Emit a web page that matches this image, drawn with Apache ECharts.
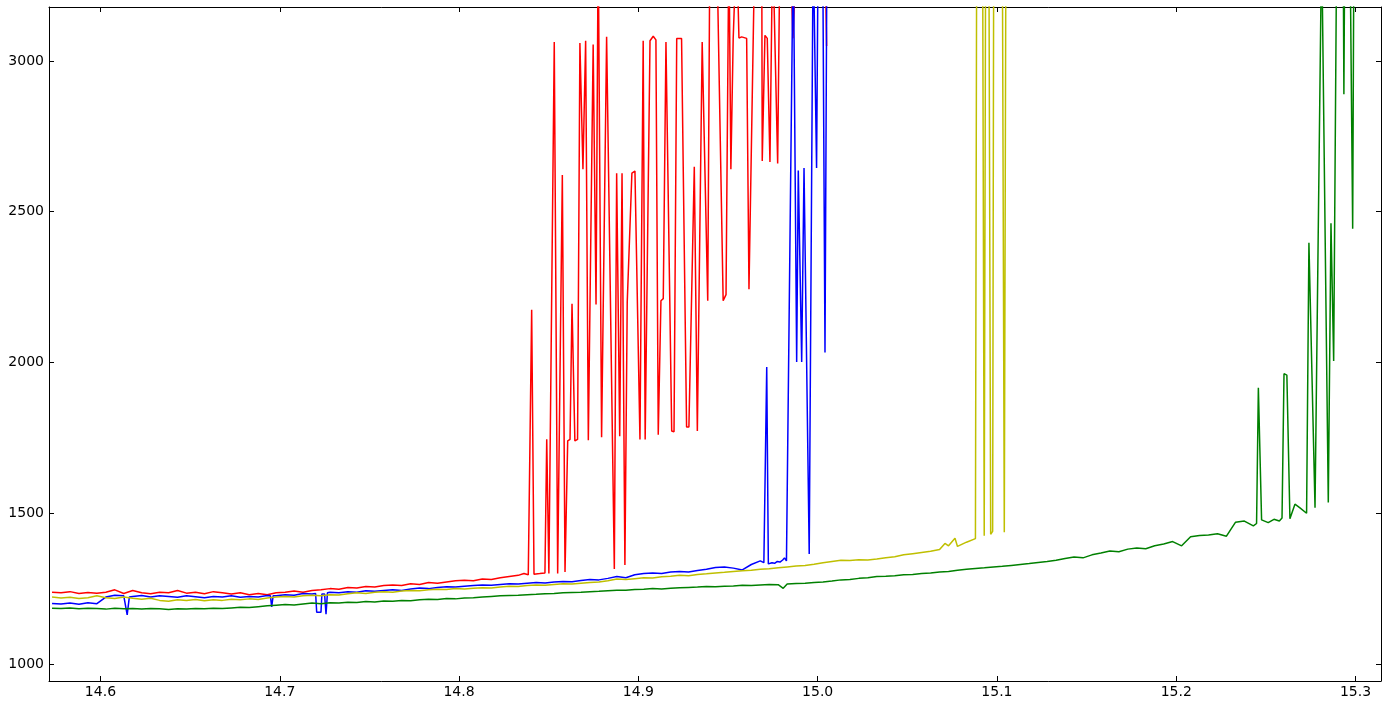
<!DOCTYPE html>
<html>
<head>
<meta charset="utf-8">
<title>spectra</title>
<script src="https://cdn.jsdelivr.net/npm/echarts@6/dist/echarts.min.js"></script>
<style>
  html, body { margin: 0; padding: 0; background: #fff; }
  #chart { width: 1389px; height: 702px; }
</style>
</head>
<body>
<div id="chart"></div>
<script>
// tick labels
var xTicks = [14.6, 14.7, 14.8, 14.9, 15.0, 15.1, 15.2, 15.3];
var yTicks = [1000, 1500, 2000, 2500, 3000];

// baselines are sampled every 0.005 starting at 14.573
var baseStart = 14.573;
var baseStep = 0.005;

var redBase = [
  1238, 1236, 1240, 1234, 1237, 1235, 1238, 1246, 1234, 1244,
  1236, 1233, 1238, 1236, 1244, 1235, 1238, 1233, 1240, 1236,
  1232, 1236, 1230, 1234, 1230, 1236, 1238, 1242, 1238, 1244,
  1246, 1250, 1248, 1254, 1252, 1257, 1255, 1260, 1262, 1260,
  1266, 1264, 1270, 1268, 1272, 1276, 1278, 1276, 1282, 1280,
  1286, 1290, 1294
];
var redTail = [
  [14.8362, 1300], [14.8386, 1296], [14.8405, 2175], [14.8418, 1298], [14.8450, 1300],
  [14.8479, 1302], [14.8489, 1745], [14.8501, 1300], [14.8511, 1302], [14.8531, 3063],
  [14.8550, 1300], [14.8576, 2622], [14.8591, 1305], [14.8606, 1740], [14.8619, 1745],
  [14.8630, 2195], [14.8646, 1740], [14.8661, 1745], [14.8674, 3060], [14.8691, 2641],
  [14.8706, 3067], [14.8721, 1742], [14.8748, 3055], [14.8764, 2192], [14.8776, 3400],
  [14.8795, 1752], [14.8823, 3080], [14.8866, 1315], [14.8879, 2628], [14.8896, 1755],
  [14.8909, 2628], [14.8925, 1328], [14.8938, 2200], [14.8949, 2203], [14.8964, 2628],
  [14.8981, 2635], [14.9009, 1745], [14.9027, 3067], [14.9038, 1745], [14.9065, 3067],
  [14.9083, 3082], [14.9098, 3070], [14.9111, 1760], [14.9126, 2205], [14.9139, 2212],
  [14.9154, 3063], [14.9186, 1773], [14.9199, 1770], [14.9214, 3075], [14.9241, 3075],
  [14.9269, 1786], [14.9282, 1786], [14.9312, 2649], [14.9329, 1773], [14.9356, 3063],
  [14.9387, 2205], [14.9399, 3400], [14.9437, 3400], [14.9473, 2205], [14.9489, 2225],
  [14.9505, 3400], [14.9516, 2641], [14.9529, 3075], [14.9548, 3400], [14.9561, 3076],
  [14.9576, 3080], [14.9604, 3075], [14.9617, 2243], [14.9650, 3400], [14.9688, 3400],
  [14.9691, 2668], [14.9706, 3085], [14.9719, 3075], [14.9734, 2665], [14.9749, 3400],
  [14.9777, 2660], [14.9790, 3400], [14.9846, 3400], [14.9862, 3075], [14.9873, 3070],
  [14.9885, 3400], [15.0040, 3400], [15.0050, 3050]
];

var blueBase = [
  1201, 1199, 1202, 1198, 1203, 1200, 1222, 1228, 1226, 1224,
  1227, 1222, 1226, 1224, 1221, 1226, 1223, 1220, 1224, 1222,
  1226, 1221, 1224, 1222, 1227, 1226, 1230, 1228, 1234, 1232,
  1172, 1238, 1236, 1240, 1238, 1243, 1241, 1244, 1246, 1244,
  1249, 1252, 1250, 1254, 1256, 1255, 1258, 1260, 1262, 1261,
  1264, 1266, 1265, 1268, 1270, 1269, 1272, 1274, 1273, 1277,
  1280, 1279, 1284, 1290, 1286, 1296, 1300, 1302, 1300, 1305,
  1307, 1305, 1310, 1314, 1320, 1322, 1318, 1312, 1330, 1342
];
// narrow dips inside the baseline, then the noisy tail
var blueDips = [
  [14.6137, 1224], [14.6149, 1163], [14.6161, 1222],
  [14.6948, 1226], [14.6955, 1189], [14.6963, 1226],
  [14.7200, 1234], [14.7206, 1172], [14.7235, 1232], [14.7250, 1232],
  [14.7258, 1165], [14.7266, 1236]
];
var blueTail = [
  [14.9700, 1336], [14.9716, 1985], [14.9725, 1332], [14.9745, 1336], [14.9760, 1334],
  [14.9775, 1340], [14.9790, 1338], [14.9805, 1345], [14.9815, 1352], [14.9826, 1342],
  [14.9836, 1340], [14.9864, 3400], [14.9883, 2002], [14.9892, 2637], [14.9911, 2002],
  [14.9924, 2645], [14.9953, 1365], [14.9975, 3400], [14.9994, 2645], [15.0003, 3400],
  [15.0028, 3400], [15.0041, 2033], [15.0052, 3400]
];

var yellowBase = [
  1222, 1219, 1221, 1217, 1220, 1226, 1220, 1217, 1222, 1218,
  1215, 1218, 1211, 1208, 1213, 1211, 1214, 1210, 1213, 1211,
  1215, 1213, 1216, 1214, 1219, 1222, 1224, 1222, 1226, 1228,
  1226, 1230, 1229, 1233, 1236, 1234, 1238, 1240, 1238, 1242,
  1244, 1243, 1246, 1248, 1247, 1250, 1249, 1251, 1253, 1252,
  1255, 1258, 1257, 1260, 1262, 1261, 1264, 1266, 1265, 1268,
  1270, 1272, 1276, 1282, 1280, 1283, 1286, 1285, 1289, 1291,
  1294, 1293, 1297, 1299, 1302, 1304, 1307, 1309, 1311, 1314,
  1316, 1319, 1322, 1325, 1327, 1331, 1336, 1340, 1344, 1343,
  1346, 1345, 1348, 1352, 1356, 1362, 1366, 1370, 1374, 1380,
  1392, 1390, 1404, 1416
];
var yellowTail = [
  [15.0710, 1400], [15.0766, 1417],
  [15.0887, 3400], [15.0920, 3400], [15.0929, 1425], [15.0937, 3400], [15.0955, 3400],
  [15.0965, 1430], [15.0976, 1440], [15.0982, 3400], [15.1030, 3400], [15.1041, 1437],
  [15.1050, 3400]
];

var greenBase = [
  1185, 1184, 1186, 1183, 1185, 1184, 1182, 1185, 1183, 1184,
  1182, 1184, 1183, 1181, 1183, 1182, 1184, 1183, 1185, 1184,
  1186, 1188, 1187, 1190, 1193, 1195, 1197, 1196, 1199, 1202,
  1200, 1203, 1202, 1205, 1204, 1207, 1206, 1209, 1208, 1211,
  1210, 1213, 1215, 1214, 1217, 1216, 1219, 1220, 1222, 1224,
  1226, 1227, 1228, 1230, 1231, 1233, 1234, 1236, 1237, 1238,
  1240, 1241, 1243, 1245, 1245, 1247, 1248, 1250, 1249, 1251,
  1253, 1254, 1255, 1257, 1256, 1258, 1259, 1261, 1260, 1262,
  1264, 1263, 1265, 1267, 1268, 1270, 1272, 1275, 1279, 1280,
  1284, 1286, 1290, 1291, 1293, 1296, 1297, 1300, 1302, 1305,
  1307, 1311, 1314, 1317, 1319, 1322, 1324, 1327, 1330, 1333,
  1337, 1340, 1344, 1350, 1355, 1352, 1362, 1368, 1375, 1372,
  1381, 1385, 1382, 1392, 1398, 1406, 1392, 1422, 1426, 1428,
  1432, 1424, 1470, 1474, 1458
];
var greenTail = [
  [14.9808, 1251],
  [15.2448, 1466], [15.2458, 1916], [15.2476, 1478], [15.2513, 1469], [15.2545, 1480],
  [15.2575, 1474], [15.2590, 1484], [15.2601, 1963], [15.2617, 1958], [15.2634, 1482],
  [15.2662, 1530], [15.2690, 1518], [15.2727, 1500], [15.2740, 2397], [15.2774, 1518],
  [15.2811, 3400], [15.2848, 1536], [15.2863, 2462], [15.2878, 2005], [15.2895, 3400],
  [15.2931, 3400], [15.2935, 2890], [15.2940, 3400], [15.2969, 3400], [15.2984, 2444],
  [15.2991, 3400], [15.3001, 3400]
];

// baseline + extra points, ordered by x
function buildSeries(base, extra) {
  var pts = base.map(function (y, i) {
    return [+(baseStart + i * baseStep).toFixed(4), y];
  });
  return pts.concat(extra).sort(function (a, b) { return a[0] - b[0]; });
}

var chart = echarts.init(document.getElementById('chart'));

var font = { fontFamily: 'DejaVu Sans', fontSize: 14, color: '#000' };
var spine = { show: true, onZero: false, lineStyle: { color: '#000', width: 1 } };
var tick = { show: true, inside: true, length: 5, lineStyle: { color: '#000', width: 1 } };

function lineSeries(data, color) {
  return {
    type: 'line',
    data: data,
    showSymbol: false,
    symbol: 'none',
    clip: true,
    lineStyle: { color: color, width: 1.5 },
    itemStyle: { color: color },
    emphasis: { disabled: true }
  };
}

chart.setOption({
  animation: false,
  backgroundColor: '#fff',
  grid: { left: 49, right: 8, top: 7, bottom: 21, containLabel: false },
  xAxis: [
    {
      type: 'value', position: 'bottom', min: 14.5713, max: 15.3142,
      axisLine: spine,
      axisTick: Object.assign({ customValues: xTicks }, tick),
      axisLabel: Object.assign({
        customValues: xTicks, margin: 4,
        formatter: function (v) { return v.toFixed(1); }
      }, font),
      splitLine: { show: false }
    },
    {
      type: 'value', position: 'top', min: 14.5713, max: 15.3142,
      axisLine: spine,
      axisTick: Object.assign({ customValues: xTicks }, tick),
      axisLabel: { show: false },
      splitLine: { show: false }
    }
  ],
  yAxis: [
    {
      type: 'value', position: 'left', min: 943.6, max: 3179.1,
      axisLine: spine,
      axisTick: Object.assign({ customValues: yTicks }, tick),
      axisLabel: Object.assign({
        customValues: yTicks, margin: 5,
        formatter: function (v) { return String(v); }
      }, font),
      splitLine: { show: false }
    },
    {
      type: 'value', position: 'right', min: 943.6, max: 3179.1,
      axisLine: spine,
      axisTick: Object.assign({ customValues: yTicks }, tick),
      axisLabel: { show: false },
      splitLine: { show: false }
    }
  ],
  series: [
    lineSeries(buildSeries(redBase, redTail), '#ff0000'),
    lineSeries(buildSeries(blueBase, blueDips.concat(blueTail)), '#0000ff'),
    lineSeries(buildSeries(yellowBase, yellowTail), '#bfbf00'),
    lineSeries(buildSeries(greenBase, greenTail), '#008000')
  ]
});
</script>
</body>
</html>
